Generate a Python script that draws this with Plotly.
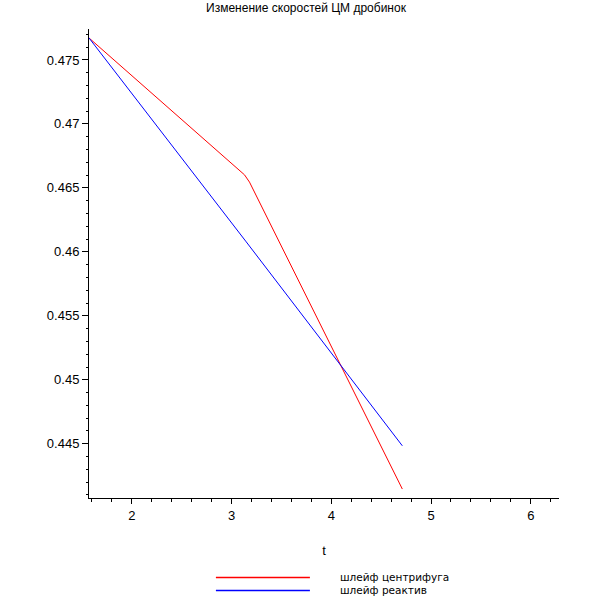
import math
import plotly.graph_objects as go

# Data
red_t = [math.pi / 2, 3.08, 3.13, 3.18, 3 * math.pi / 2]
red_v = [0.47672, 0.46638, 0.46602, 0.46545, 0.44146]
blue_t = [math.pi / 2, math.pi, 3 * math.pi / 2]
blue_v = [0.47672, 0.46084, 0.44484]
names = ["шлейф центрифуга", "шлейф реактив"]
colors = ["#ff0000", "#0000ff"]
title = "Изменение скоростей ЦМ дробинок"
x_label = "t"

FONT = "Liberation Sans, Arial, sans-serif"
LEG_FONT = "DejaVu Sans, sans-serif"

fig = go.Figure()
fig.add_trace(go.Scatter(x=red_t, y=red_v, mode="lines", name=names[0],
                         line=dict(color=colors[0], width=1)))
fig.add_trace(go.Scatter(x=blue_t, y=blue_v, mode="lines", name=names[1],
                         line=dict(color=colors[1], width=1)))

# manual legend (long sample lines like the reference)
leg_y = [-0.1695, -0.197]
for i in range(2):
    fig.add_shape(type="line", xref="paper", yref="paper",
                  x0=0.270, x1=0.470, y0=leg_y[i], y1=leg_y[i],
                  line=dict(color=colors[i], width=1.5))
    fig.add_annotation(xref="paper", yref="paper", x=0.532, y=leg_y[i],
                       text=names[i], showarrow=False, xanchor="left",
                       yanchor="middle", borderpad=0,
                       font=dict(family=LEG_FONT, size=10.5, color="black"))

fig.update_layout(
    width=612, height=612,
    margin=dict(l=89, r=53, t=29, b=114),
    paper_bgcolor="white", plot_bgcolor="white",
    showlegend=False,
    font=dict(family=FONT, size=12, color="black"),
    title=dict(text=title, x=0.5, xanchor="center", y=1 - 8 / 612, yanchor="middle",
               font=dict(family=FONT, size=12, color="black")),
)
fig.update_xaxes(
    range=[math.pi / 2, 2 * math.pi], showgrid=False, zeroline=False,
    showline=True, linecolor="black", linewidth=1, automargin=False,
    ticks="outside", ticklen=5, tickcolor="black", dtick=1, tick0=0,
    minor=dict(ticks="outside", ticklen=3, dtick=0.2, tick0=0, tickcolor="black"),
    title=dict(text=x_label, standoff=24, font=dict(family=FONT, size=13)),
    tickfont=dict(family=FONT, size=13),
)
fig.update_yaxes(
    range=[0.44076, 0.47742], showgrid=False, zeroline=False,
    showline=True, linecolor="black", linewidth=1, automargin=False,
    ticks="outside", ticklen=6, tickcolor="black", dtick=0.005, tick0=0,
    minor=dict(ticks="outside", ticklen=2, dtick=0.001, tick0=0, tickcolor="black"),
    tickformat="~g",
    tickfont=dict(family=FONT, size=13),
)

fig.write_html("out.html", config={"displayModeBar": False},
               post_script="document.body.style.margin='0';")
